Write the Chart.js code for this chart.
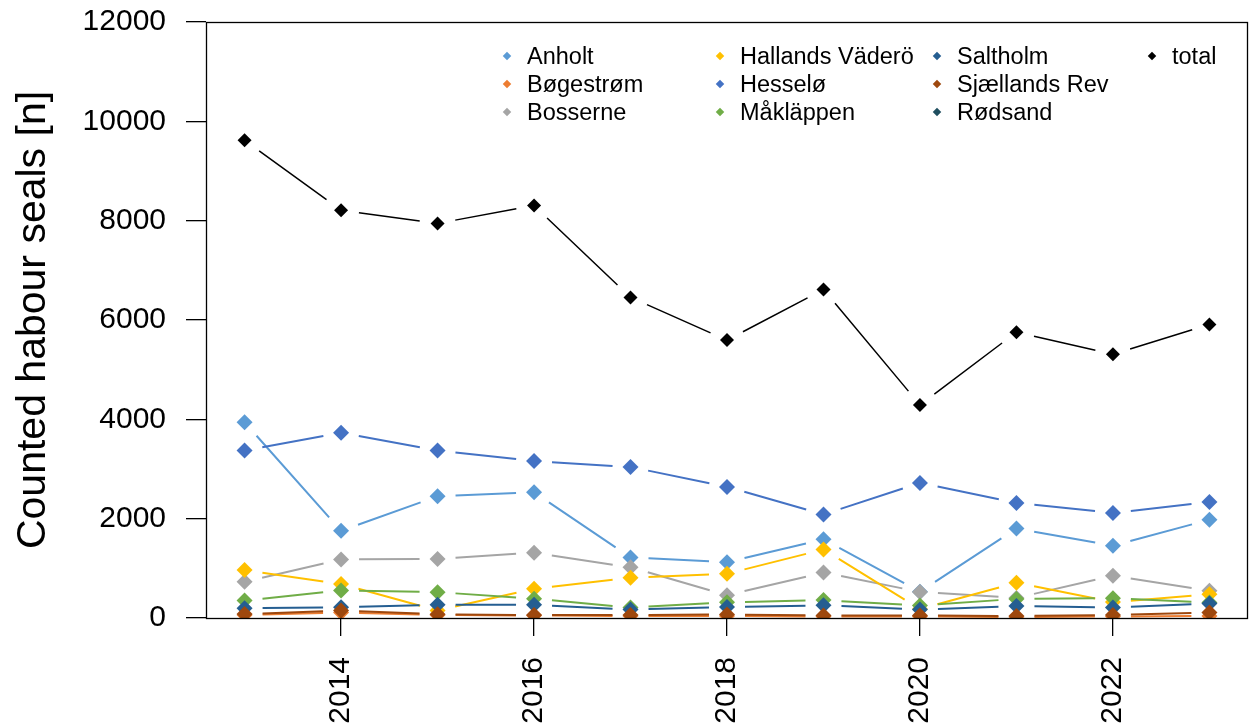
<!DOCTYPE html>
<html>
<head>
<meta charset="utf-8">
<script src="https://cdn.jsdelivr.net/npm/chart.js@4.4.1/dist/chart.umd.min.js"></script>
<style>
  html, body { margin: 0; padding: 0; background: #fff; }
  #wrap { position: relative; width: 1249px; height: 727px; }
  #legend {
    position: absolute; left: 501px; top: 42px;
    display: grid; grid-auto-flow: column;
    grid-template-rows: repeat(3, 28px);
    grid-template-columns: 213px 217px 215px 90px;
    font: 23.5px "Liberation Sans", Arial, sans-serif; color: #000;
  }
  .item { display: flex; align-items: center; white-space: nowrap; }
  .mark { width: 6px; height: 6px; transform: rotate(45deg); margin: 0 17px 0 3px; flex: none; }
</style>
</head>
<body>
<div id="wrap">
  <canvas id="chart" width="1249" height="727"></canvas>
  <div id="legend"></div>
</div>
<script>
// survey years and counts per haul-out site
const years = [2013, 2014, 2015, 2016, 2017, 2018, 2019, 2020, 2021, 2022, 2023]
const anholt = [3940, 1755, 2450, 2530, 1220, 1125, 1585, 530, 1800, 1455, 1980]
const bogestrom = [60, 110, 60, 50, 40, 40, 30, 30, 20, 30, 40]
const bosserne = [730, 1180, 1190, 1315, 1020, 460, 915, 525, 405, 850, 550]
const hallandsVadero = [965, 685, 150, 590, 810, 890, 1380, 180, 710, 320, 480]
const hesselo = [3370, 3730, 3370, 3160, 3040, 2640, 2085, 2720, 2315, 2115, 2335]
const maklappen = [350, 555, 520, 390, 210, 315, 360, 250, 385, 400, 310]
const saltholm = [195, 218, 265, 265, 170, 220, 255, 170, 240, 210, 290]
const sjaellandsRev = [80, 150, 75, 60, 60, 70, 50, 50, 40, 60, 110]
const rodsand = [null, null, null, null, null, null, null, null, null, null, null]
const total = [9620, 8210, 7945, 8305, 6455, 5595, 6615, 4290, 5755, 5310, 5910]

const seriesNames = ['Anholt', 'Bøgestrøm', 'Bosserne', 'Hallands Väderö', 'Hesselø', 'Måkläppen', 'Saltholm', 'Sjællands Rev', 'Rødsand', 'total']
const seriesValues = [anholt, bogestrom, bosserne, hallandsVadero, hesselo, maklappen, saltholm, sjaellandsRev, rodsand, total]
const seriesColors = ['#5B9BD5', '#ED7D31', '#A5A5A5', '#FFC000', '#4472C4', '#70AD47', '#255E91', '#9E480E', '#1F4E5F', '#000000']

const xTicks = [2014, 2016, 2018, 2020, 2022]
const yTicks = [0, 2000, 4000, 6000, 8000, 10000, 12000]

const FONT = '"Liberation Sans", Arial, sans-serif'
const GAP = 18 // like R type="b": lines stop short of the points

// draws each series' lines with gaps around the points, just before its points
const gapLines = {
  id: 'gapLines',
  beforeDatasetDraw(chart, args) {
    const ds = chart.data.datasets[args.index]
    const pts = args.meta.data
    const ctx = chart.ctx
    const area = chart.chartArea
    ctx.save()
    ctx.beginPath()
    ctx.rect(area.left, area.top, area.right - area.left, area.bottom - area.top)
    ctx.clip()
    ctx.strokeStyle = ds.borderColor
    ctx.lineWidth = ds.borderWidth
    ctx.beginPath()
    for (let i = 0; i < pts.length - 1; i++) {
      const a = pts[i], b = pts[i + 1]
      if (a.skip || b.skip) continue
      const dx = b.x - a.x, dy = b.y - a.y
      const len = Math.hypot(dx, dy)
      if (len <= 2 * GAP) continue
      const ux = dx / len, uy = dy / len
      ctx.moveTo(a.x + ux * GAP, a.y + uy * GAP)
      ctx.lineTo(b.x - ux * GAP, b.y - uy * GAP)
    }
    ctx.stroke()
    ctx.restore()
  }
}

// box around the plot region
const plotBox = {
  id: 'plotBox',
  afterDatasetsDraw(chart) {
    const { ctx, chartArea: a } = chart
    ctx.save()
    ctx.strokeStyle = '#000'
    ctx.lineWidth = 1.3
    ctx.strokeRect(Math.round(a.left) + 0.5, Math.round(a.top) + 0.5, Math.round(a.right - a.left) - 1, Math.round(a.bottom - a.top))
    ctx.restore()
  }
}

const datasets = seriesNames.map((name, i) => ({
  label: name,
  data: years.map((yr, j) => ({ x: yr, y: seriesValues[i][j] })),
  borderColor: seriesColors[i],
  backgroundColor: seriesColors[i],
  borderWidth: name === 'total' ? 1.5 : 2,
  showLine: false,
  pointStyle: 'rectRot',
  pointRadius: name === 'total' ? 7 : 8,
  pointBorderWidth: 0,
  order: -i, // later series drawn on top, as in the original
}))

new Chart(document.getElementById('chart'), {
  type: 'line',
  data: { datasets },
  options: {
    responsive: false,
    animation: false,
    devicePixelRatio: 1,
    layout: { autoPadding: false, padding: { top: 22, right: 1, left: 0, bottom: 0 } },
    plugins: { legend: { display: false }, tooltip: { enabled: false } },
    scales: {
      x: {
        type: 'linear',
        min: 2012.6,
        max: 2023.4,
        afterBuildTicks: (scale) => { scale.ticks = xTicks.map(v => ({ value: v })) },
        afterFit: (scale) => { scale.height = 109; scale.paddingLeft = 0; scale.paddingRight = 0 },
        border: { display: false },
        grid: { drawOnChartArea: false, drawTicks: true, tickLength: 18, color: '#000', lineWidth: 1.3 },
        ticks: { minRotation: 90, maxRotation: 90, padding: 21, color: '#000', font: { family: FONT, size: 30 }, callback: v => String(v) },
      },
      y: {
        type: 'linear',
        min: 0,
        max: 12000,
        afterBuildTicks: (scale) => { scale.ticks = yTicks.map(v => ({ value: v })) },
        afterFit: (scale) => { scale.width = 206; scale.paddingTop = 0; scale.paddingBottom = 0 },
        border: { display: false },
        grid: { drawOnChartArea: false, drawTicks: true, tickLength: 20, color: '#000', lineWidth: 1.3 },
        ticks: { padding: 20, color: '#000', font: { family: FONT, size: 30 }, callback: v => String(v) },
        title: { display: true, text: 'Counted habour seals [n]', color: '#000', font: { family: FONT, size: 41 }, padding: { top: 9, bottom: 0 } },
      },
    },
  },
  plugins: [gapLines, plotBox],
})

// legend laid out column by column, like the original
const legend = document.getElementById('legend')
seriesNames.forEach((name, i) => {
  const item = document.createElement('div')
  item.className = 'item'
  const mark = document.createElement('span')
  mark.className = 'mark'
  mark.style.background = seriesColors[i]
  item.appendChild(mark)
  item.appendChild(document.createTextNode(name))
  legend.appendChild(item)
})
</script>
</body>
</html>
